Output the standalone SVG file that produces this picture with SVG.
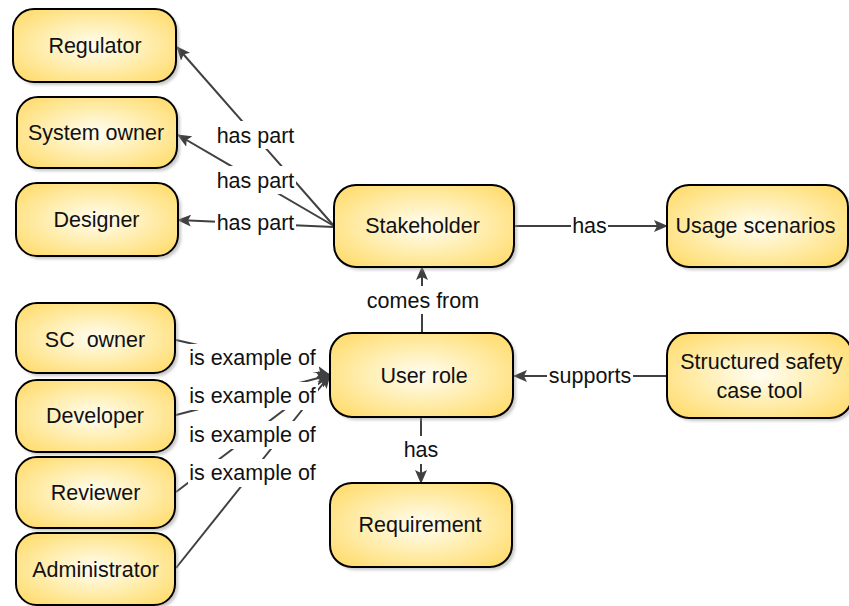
<svg xmlns="http://www.w3.org/2000/svg" width="849" height="606" viewBox="0 0 849 606">
  <defs>
    <radialGradient id="nodeFill" cx="0.5" cy="0.5" r="0.62">
      <stop offset="0" stop-color="#FFFDF2"/>
      <stop offset="0.45" stop-color="#FFF0B8"/>
      <stop offset="1" stop-color="#FFDD72"/>
    </radialGradient>
    <filter id="shadow" x="-10%" y="-10%" width="130%" height="130%">
      <feGaussianBlur stdDeviation="1.5"/>
    </filter>
    <marker id="arrow" viewBox="0 0 14 12" refX="13" refY="6" markerWidth="14" markerHeight="12" markerUnits="userSpaceOnUse" orient="auto">
      <path d="M0,0 L14,6 L0,12 L3,6 z" fill="#404040"/>
    </marker>
    <style>
      .node rect.box { fill: url(#nodeFill); stroke: #000; stroke-width: 2; }
      .node rect.sh { fill: #9a9a9a; opacity: 0.55; filter: url(#shadow); }
      .node text { font-family: "Liberation Sans", Arial, sans-serif; font-size: 21.5px; fill: #111; text-anchor: middle; white-space: pre; }
      .edges path { fill: none; stroke: #404040; stroke-width: 2; marker-end: url(#arrow); }
      .labels rect { fill: #fff; }
      .labels text { font-family: "Liberation Sans", Arial, sans-serif; font-size: 21.5px; fill: #111; text-anchor: middle; }
    </style>
  </defs>

  <rect width="849" height="606" fill="#fff"/>

  <!-- connectors -->
  <g id="connectors" class="edges">
    <path d="M334,226 L177,47"/>
    <path d="M334,226 L178,135"/>
    <path d="M334,227 L178,220"/>
    <path d="M514,226 L667,226"/>
    <path d="M422,333 L422,267"/>
    <path d="M667,376 L514,376"/>
    <path d="M421,417 L421,483"/>
    <path d="M176,340 L330,375"/>
    <path d="M176,415 L330,375"/>
    <path d="M176,492 L330,375"/>
    <path d="M176,568 L330,375"/>
  </g>

  <!-- connector labels -->
  <g id="edge-labels" class="labels">
    <rect x="215" y="121" width="81" height="28"/><text x="255.5" y="142.5">has part</text>
    <rect x="215" y="166" width="81" height="28"/><text x="255.5" y="187.5">has part</text>
    <rect x="215" y="209" width="81" height="28"/><text x="255.5" y="230">has part</text>
    <rect x="571" y="212" width="37" height="28"/><text x="589.5" y="233">has</text>
    <rect x="366" y="286" width="114" height="28"/><text x="423" y="308">comes from</text>
    <rect x="547" y="362" width="86" height="28"/><text x="590" y="383">supports</text>
    <rect x="403" y="436" width="37" height="28"/><text x="421" y="457">has</text>
    <rect x="188" y="344" width="130" height="28"/><text x="252.5" y="365">is example of</text>
    <rect x="188" y="382" width="130" height="28"/><text x="252.5" y="403">is example of</text>
    <rect x="188" y="421" width="130" height="28"/><text x="252.5" y="441.5">is example of</text>
    <rect x="188" y="459" width="130" height="28"/><text x="252.5" y="480">is example of</text>
  </g>

  <!-- nodes -->
  <g id="regulator" class="node">
    <rect class="sh" x="16" y="12" width="163" height="73" rx="21"/>
    <rect class="box" x="13" y="9" width="163" height="73" rx="21"/>
    <text x="95" y="53.3">Regulator</text>
  </g>
  <g id="system-owner" class="node">
    <rect class="sh" x="20" y="100" width="160" height="71" rx="21"/>
    <rect class="box" x="17" y="97" width="160" height="71" rx="21"/>
    <text x="96" y="140">System owner</text>
  </g>
  <g id="designer" class="node">
    <rect class="sh" x="19" y="186" width="162" height="73" rx="21"/>
    <rect class="box" x="16" y="183" width="162" height="73" rx="21"/>
    <text x="96.5" y="226.7">Designer</text>
  </g>
  <g id="stakeholder" class="node">
    <rect class="sh" x="337" y="188" width="180" height="82" rx="22"/>
    <rect class="box" x="334" y="185" width="180" height="82" rx="22"/>
    <text x="422.5" y="233.3">Stakeholder</text>
  </g>
  <g id="usage-scenarios" class="node">
    <rect class="sh" x="670" y="188" width="181" height="82" rx="22"/>
    <rect class="box" x="667" y="185" width="181" height="82" rx="22"/>
    <text x="755.5" y="233">Usage scenarios</text>
  </g>
  <g id="user-role" class="node">
    <rect class="sh" x="333" y="336" width="183" height="84" rx="22"/>
    <rect class="box" x="330" y="333" width="183" height="84" rx="22"/>
    <text x="424" y="383.3">User role</text>
  </g>
  <g id="structured-safety-case-tool" class="node">
    <rect class="sh" x="670" y="336" width="185" height="85" rx="22"/>
    <rect class="box" x="667" y="333" width="185" height="85" rx="22"/>
    <text x="761.5" y="369.3">Structured safety</text>
    <text x="759.5" y="398.3">case tool</text>
  </g>
  <g id="requirement" class="node">
    <rect class="sh" x="333" y="486" width="182" height="84" rx="22"/>
    <rect class="box" x="330" y="483" width="182" height="84" rx="22"/>
    <text x="420" y="531.7">Requirement</text>
  </g>
  <g id="sc-owner" class="node">
    <rect class="sh" x="19" y="306" width="159" height="70" rx="21"/>
    <rect class="box" x="16" y="303" width="159" height="70" rx="21"/>
    <text x="95" y="346.7">SC  owner</text>
  </g>
  <g id="developer" class="node">
    <rect class="sh" x="19" y="383" width="159" height="72" rx="21"/>
    <rect class="box" x="16" y="380" width="159" height="72" rx="21"/>
    <text x="95" y="423.3">Developer</text>
  </g>
  <g id="reviewer" class="node">
    <rect class="sh" x="19" y="460" width="159" height="71" rx="21"/>
    <rect class="box" x="16" y="457" width="159" height="71" rx="21"/>
    <text x="95.5" y="500">Reviewer</text>
  </g>
  <g id="administrator" class="node">
    <rect class="sh" x="19" y="536" width="159" height="72" rx="21"/>
    <rect class="box" x="16" y="533" width="159" height="72" rx="21"/>
    <text x="95.5" y="576.7">Administrator</text>
  </g>
</svg>
